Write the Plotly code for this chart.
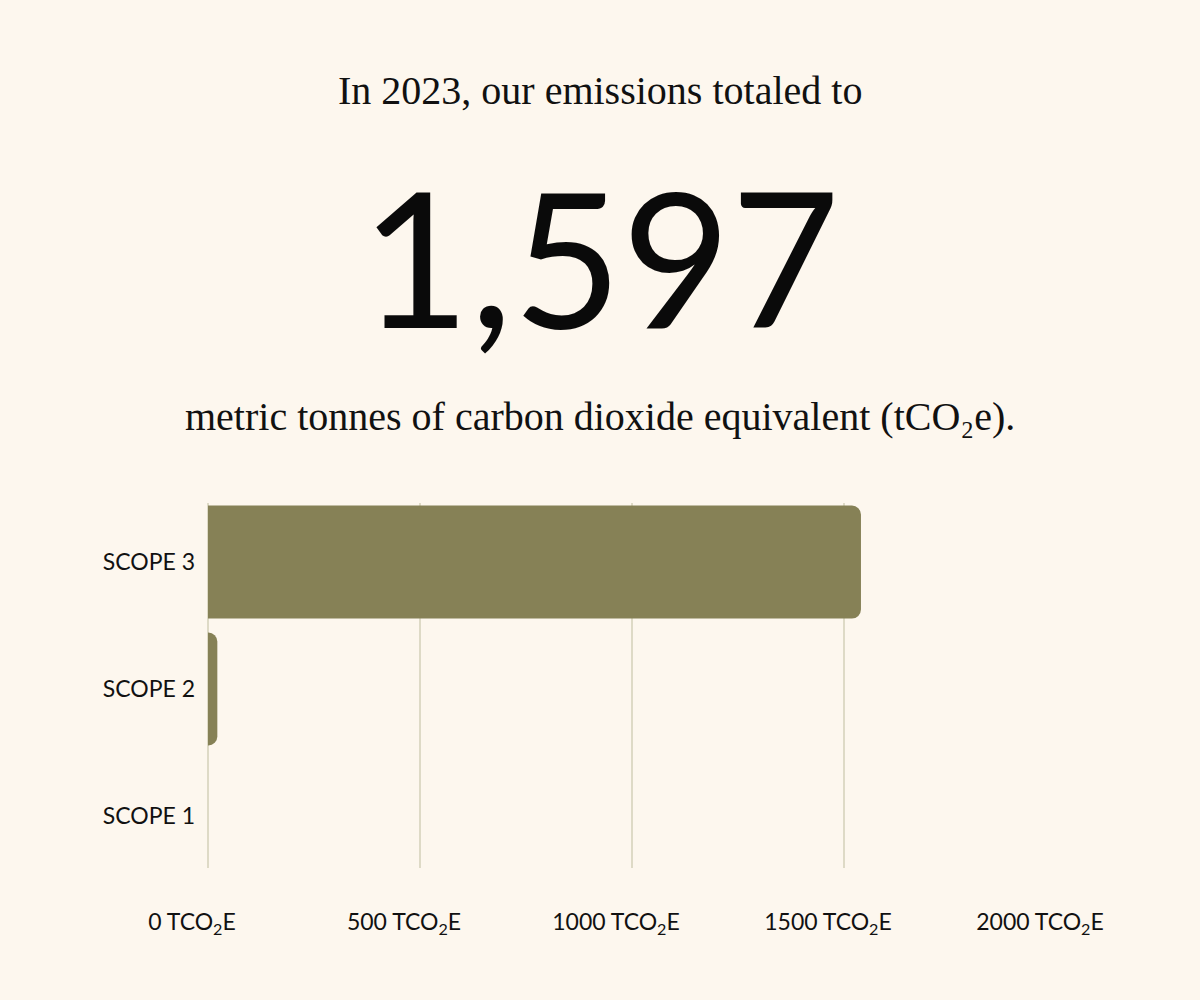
import plotly.graph_objects as go

categories = ["SCOPE 1", "SCOPE 2", "SCOPE 3"]
values = [0, 22, 1540]
tick_vals = [0, 500, 1000, 1500, 2000]
tick_text = ["0 TCO<sub>2</sub>E", "500 TCO<sub>2</sub>E", "1000 TCO<sub>2</sub>E",
             "1500 TCO<sub>2</sub>E", "2000 TCO<sub>2</sub>E"]
headline = "In 2023, our emissions totaled to"
total_text = "1,597"
subline = "metric tonnes of carbon dioxide equivalent (tCO₂e)."

BG = "#FDF7EE"
BAR = "#868156"
GRID = "#DEDAC6"

W, H = 1200, 1000
plot_left, plot_right = 208, 1056
plot_top, plot_bottom = 503, 868
plot_h = plot_bottom - plot_top


def py(px):
    return (plot_bottom - px) / plot_h


fig = go.Figure(go.Bar(
    y=categories, x=values, orientation="h",
    marker=dict(color=BAR, line=dict(width=0)),
    width=0.89, hoverinfo="skip",
))

fig.update_layout(
    width=W, height=H,
    paper_bgcolor=BG, plot_bgcolor=BG,
    margin=dict(l=plot_left, r=W - plot_right, t=plot_top, b=H - plot_bottom, pad=0),
    barcornerradius=9,
    showlegend=False,
    xaxis=dict(range=[0, 2000], tickvals=tick_vals, ticktext=tick_text,
               showgrid=True, gridcolor=GRID, gridwidth=1.5,
               zeroline=True, zerolinecolor=GRID, zerolinewidth=1.5,
               showline=False, ticks="", ticklabelstandoff=38,
               ticklabelshift=-16,
               tickfont=dict(family="Lato", size=23, color="#111111")),
    yaxis=dict(categoryorder="array", categoryarray=categories,
               range=[-0.41, 2.465], showgrid=False, zeroline=False,
               showline=False, ticks="", ticklabelstandoff=12,
               tickfont=dict(family="Lato", size=23, color="#111111")),
    annotations=[
        dict(text=headline, x=0.5, y=py(90), xref="paper", yref="paper",
             xanchor="center", yanchor="middle", showarrow=False,
             font=dict(family="Liberation Serif", size=40, color="#111111")),
        dict(text=total_text, x=0.5, y=py(255), xref="paper", yref="paper",
             xanchor="center", yanchor="middle", showarrow=False,
             font=dict(family="Lato", size=188, color="#0a0a0a")),
        dict(text=subline, x=0.5, y=py(416), xref="paper", yref="paper",
             xanchor="center", yanchor="middle", showarrow=False,
             font=dict(family="Liberation Serif", size=40, color="#111111")),
    ],
)

# center annotations on full page width (plot area is offset)
shift = (W / 2) - (plot_left + (plot_right - plot_left) / 2)
for a in fig.layout.annotations:
    a.xshift = shift

fig.write_html(
    "out.html",
    config={"displayModeBar": False},
    post_script="document.body.style.margin='0';document.body.style.background='" + BG + "';",
)
